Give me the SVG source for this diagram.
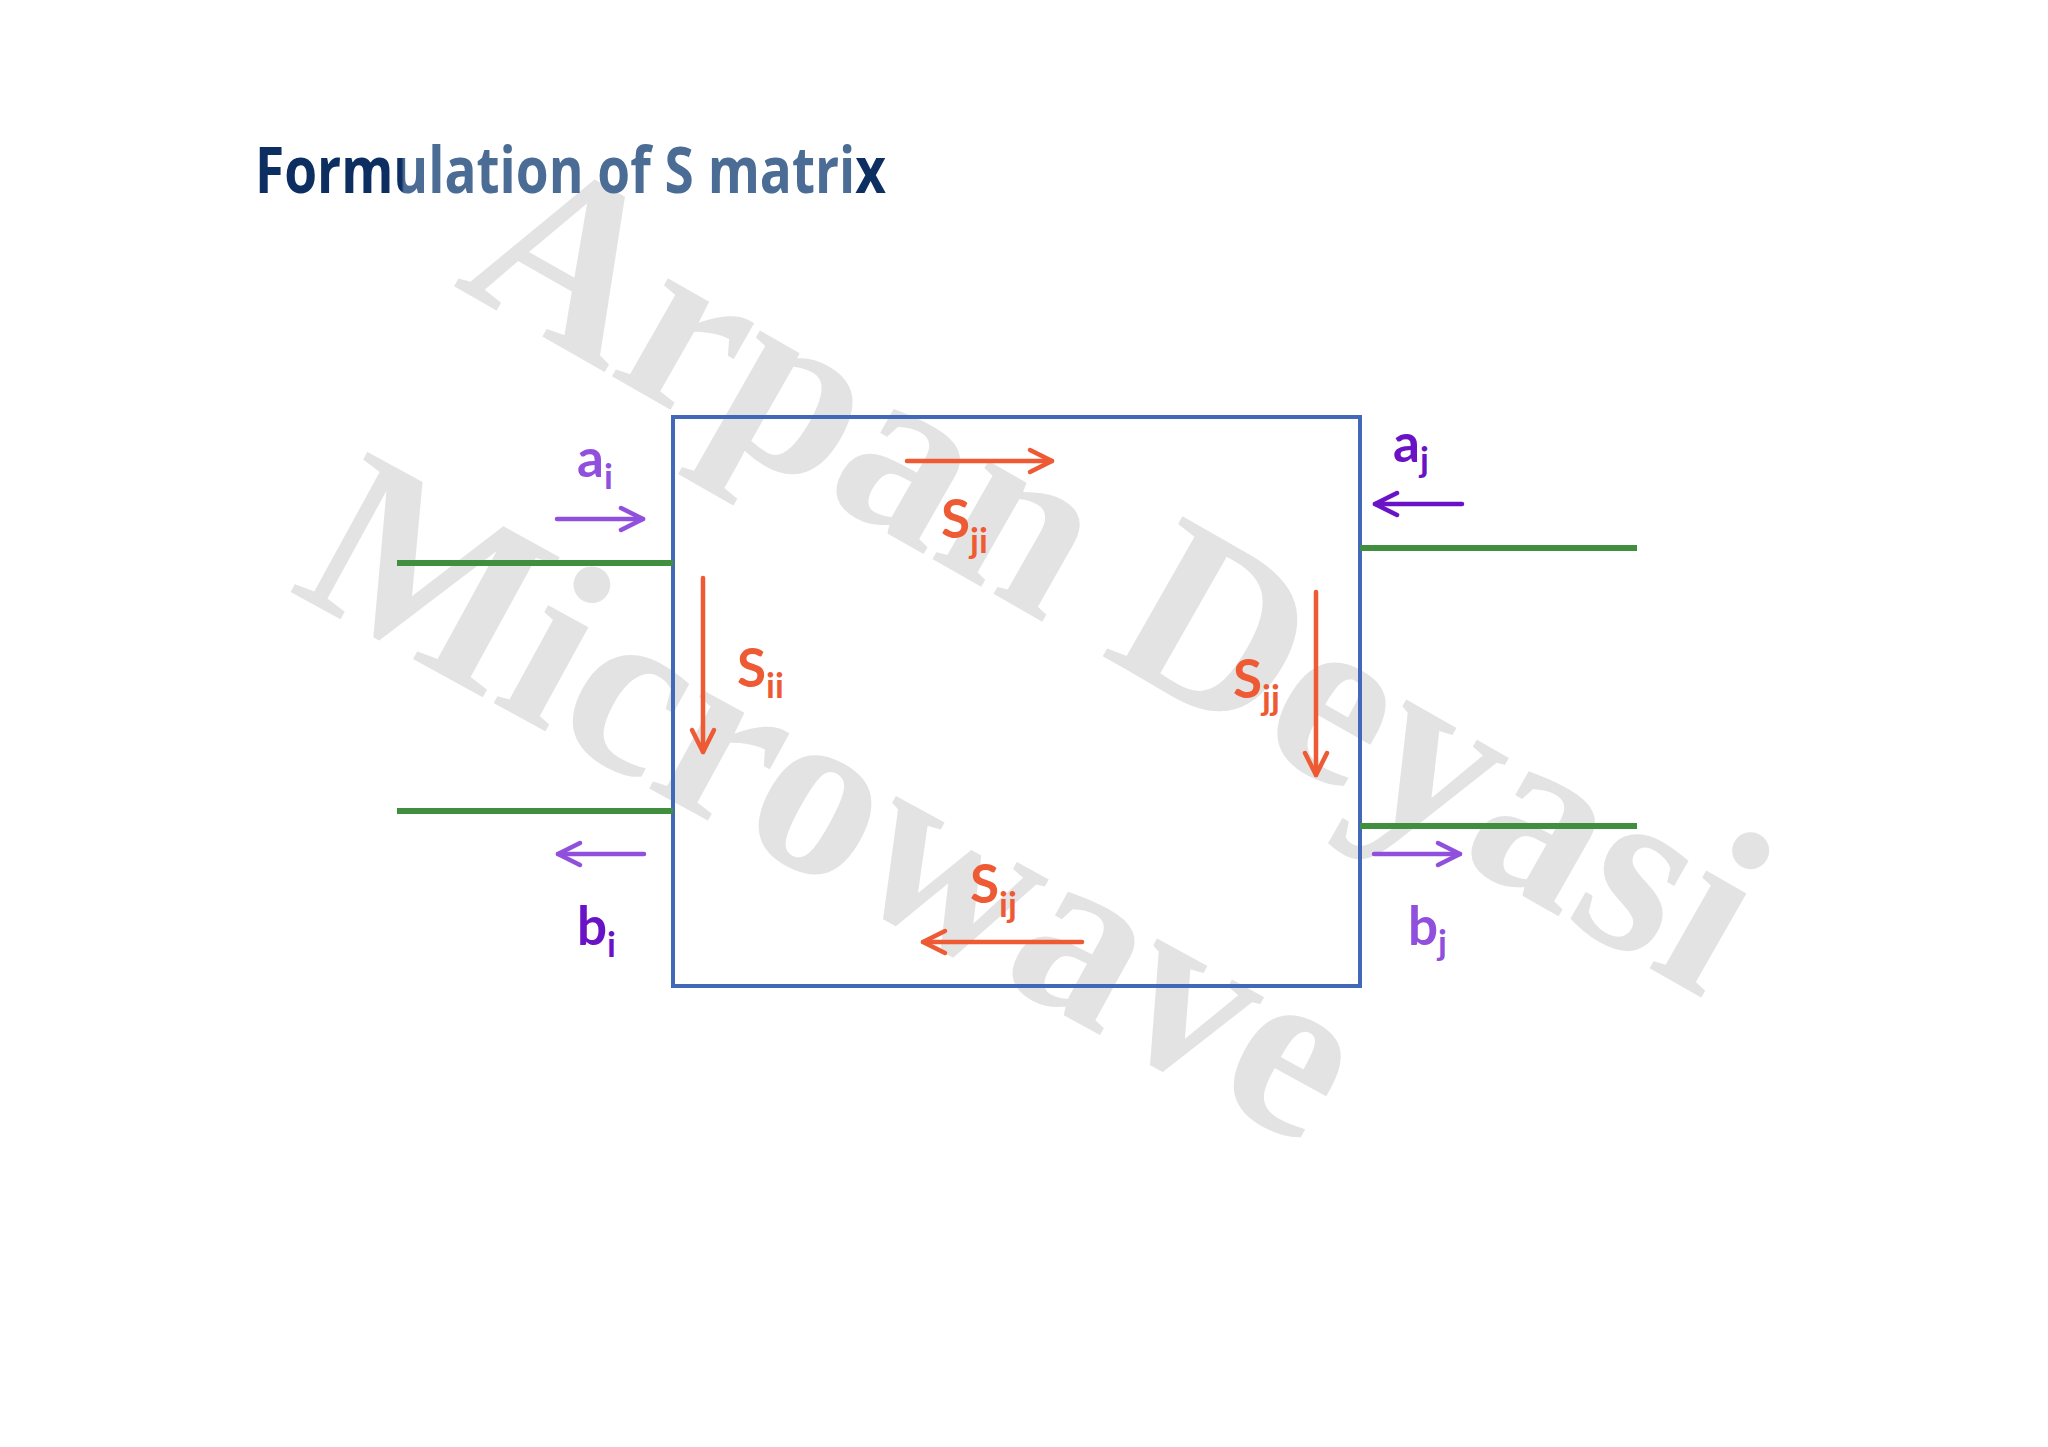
<svg xmlns="http://www.w3.org/2000/svg" width="2048" height="1447" viewBox="0 0 2048 1447">
  <style>
    .wm { font-family: "Liberation Serif", "DejaVu Serif", serif; font-weight: bold; fill: #e3e3e3; }
    .title { font-family: "Open Sans", "Liberation Sans", sans-serif; font-weight: bold; font-size: 64px; }
    .lbl { font-family: Lato, "Open Sans", sans-serif; font-weight: bold; font-size: 53px; }
    .sub { font-size: 35px; }
    .pl { fill: #9050DD; }
    .pd { fill: #6A12C6; }
    .or { fill: #EE5A34; }
    .port { stroke: #3F8F3F; stroke-width: 6; fill: none; }
    .arr { stroke-width: 4.5; fill: none; stroke-linecap: round; }
    .apl { stroke: #9050DD; }
    .apd { stroke: #6A12C6; }
    .aor { stroke: #EE5A34; }
  </style>
  <defs>
    <linearGradient id="titleFill" gradientUnits="userSpaceOnUse" x1="255" y1="0" x2="886" y2="0">
      <stop offset="0" stop-color="#0D2E61"/>
      <stop offset="0.232" stop-color="#0D2E61"/>
      <stop offset="0.236" stop-color="#4B6C95"/>
      <stop offset="0.946" stop-color="#4B6C95"/>
      <stop offset="0.950" stop-color="#0D2E61"/>
      <stop offset="1" stop-color="#0D2E61"/>
    </linearGradient>
    <marker id="hpl" markerUnits="userSpaceOnUse" viewBox="-30 -16 36 32" markerWidth="36" markerHeight="32" refX="0" refY="0" orient="auto">
      <path d="M-22,-11 L0,0 L-22,11" fill="none" stroke="#9050DD" stroke-width="4.5" stroke-linecap="round" stroke-linejoin="round"/>
    </marker>
    <marker id="hpd" markerUnits="userSpaceOnUse" viewBox="-30 -16 36 32" markerWidth="36" markerHeight="32" refX="0" refY="0" orient="auto">
      <path d="M-22,-11 L0,0 L-22,11" fill="none" stroke="#6A12C6" stroke-width="4.5" stroke-linecap="round" stroke-linejoin="round"/>
    </marker>
    <marker id="hor" markerUnits="userSpaceOnUse" viewBox="-30 -16 36 32" markerWidth="36" markerHeight="32" refX="0" refY="0" orient="auto">
      <path d="M-22,-11 L0,0 L-22,11" fill="none" stroke="#EE5A34" stroke-width="4.5" stroke-linecap="round" stroke-linejoin="round"/>
    </marker>
  </defs>
  <rect width="2048" height="1447" fill="#ffffff"/>

  <g id="watermark">
    <text class="wm" font-size="246" transform="translate(452,285) rotate(29.7)">Arpan Deyasi</text>
    <text class="wm" font-size="244" transform="translate(287,590) rotate(28.7)">Microwave</text>
  </g>

  <g id="title">
    <text class="title" x="255" y="193" fill="url(#titleFill)" textLength="631" lengthAdjust="spacingAndGlyphs">Formulation of S matrix</text>
  </g>

  <g id="network">
    <rect x="673" y="417" width="687" height="569" fill="none" stroke="#4169B8" stroke-width="4"/>
  </g>

  <g id="ports">
    <line class="port" x1="397" y1="563" x2="673" y2="563"/>
    <line class="port" x1="397" y1="811" x2="673" y2="811"/>
    <line class="port" x1="1360" y1="548" x2="1637" y2="548"/>
    <line class="port" x1="1360" y1="826" x2="1637" y2="826"/>
  </g>

  <g id="connectors">
    <path class="arr apl" d="M557,519 H643" marker-end="url(#hpl)"/>
    <path class="arr apd" d="M1462,504 H1375" marker-end="url(#hpd)"/>
    <path class="arr apl" d="M644,854 H558" marker-end="url(#hpl)"/>
    <path class="arr apl" d="M1374,854 H1460" marker-end="url(#hpl)"/>
    <path class="arr aor" d="M907,461 H1052" marker-end="url(#hor)"/>
    <path class="arr aor" d="M703,578 V752" marker-end="url(#hor)"/>
    <path class="arr aor" d="M1316,592 V775" marker-end="url(#hor)"/>
    <path class="arr aor" d="M1082,942 H923" marker-end="url(#hor)"/>
  </g>

  <g id="label-ai"><text class="lbl pl" x="577" y="477">a<tspan class="sub" dy="12">i</tspan></text></g>
  <g id="label-aj"><text class="lbl pd" x="1393" y="462">a<tspan class="sub" dy="10">j</tspan></text></g>
  <g id="label-bi"><text class="lbl pd" x="577" y="945">b<tspan class="sub" dy="12">i</tspan></text></g>
  <g id="label-bj"><text class="lbl pl" x="1408" y="945">b<tspan class="sub" dy="10">j</tspan></text></g>
  <g id="label-sji"><text class="lbl or" x="941" y="538">S<tspan class="sub" dy="15">ji</tspan></text></g>
  <g id="label-sii"><text class="lbl or" x="737" y="687">S<tspan class="sub" dy="11">ii</tspan></text></g>
  <g id="label-sjj"><text class="lbl or" x="1233" y="698">S<tspan class="sub" dy="12">jj</tspan></text></g>
  <g id="label-sij"><text class="lbl or" x="970" y="903">S<tspan class="sub" dy="14">ij</tspan></text></g>
</svg>
